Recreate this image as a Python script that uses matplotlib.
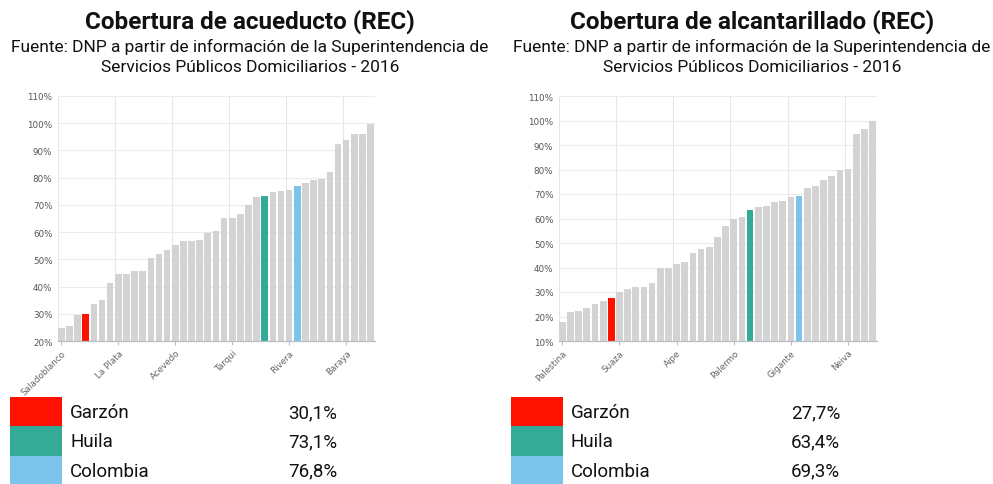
import matplotlib
matplotlib.use("Agg")
import numpy as np
import matplotlib.pyplot as plt
from matplotlib.patches import Rectangle

# cobertura de acueducto por municipio (%), ordenada
acueducto = [24.8, 25.6, 29.5, 30.1, 33.6, 35.1, 41.2, 44.5, 44.7, 45.7,
             45.7, 50.5, 51.8, 53.3, 55.1, 56.6, 56.8, 57.2, 59.5, 60.5,
             65.2, 65.2, 66.6, 69.8, 72.9, 73.1, 74.6, 75.2, 75.4, 76.8,
             77.9, 79.0, 79.6, 81.9, 92.2, 94.0, 96.1, 96.1, 99.7]
acu_ticks = ["Saladoblanco", "La Plata", "Acevedo", "Tarqui", "Rivera", "Baraya"]
acu_marks = {3: "Garzón", 25: "Huila", 29: "Colombia"}

# cobertura de alcantarillado por municipio (%), ordenada
alcantarillado = [17.9, 21.9, 22.4, 23.5, 24.9, 26.3, 27.7, 29.9, 31.3, 32.1,
                  32.0, 33.6, 39.9, 39.9, 41.6, 42.4, 45.8, 47.6, 48.3, 52.3,
                  57.0, 59.7, 60.7, 63.4, 64.5, 64.9, 66.6, 67.0, 68.9, 69.3,
                  72.4, 73.1, 75.8, 77.2, 79.7, 80.1, 94.3, 96.6, 99.8]
alc_ticks = ["Palestina", "Suaza", "Aipe", "Palermo", "Gigante", "Neiva"]
alc_marks = {6: "Garzón", 23: "Huila", 29: "Colombia"}

colors = {"Garzón": "#ff1100", "Huila": "#33ab97", "Colombia": "#7cc3ea"}
GRAY = "#d3d3d3"
W, H = 993, 485

fig = plt.figure(figsize=(W / 100, H / 100), dpi=100)


def px_axes(x0, y0, x1, y1):
    return fig.add_axes([x0 / W, 1 - y1 / H, (x1 - x0) / W, (y1 - y0) / H])


def draw_panel(ax, vals, marks, ticks, ymin):
    n = len(vals)
    x = np.arange(n)
    cols = [colors[marks[i]] if i in marks else GRAY for i in range(n)]
    bw = 0.82
    ax.bar(x, np.array(vals) - ymin, bottom=ymin, width=bw, color=cols, zorder=2)
    ax.set_xlim(-bw / 2, n - 1 + 0.55)
    ax.set_ylim(ymin, 110)
    ax.set_yticks(np.arange(ymin, 111, 10))
    ax.set_yticklabels([f"{v}%" for v in range(ymin, 111, 10)])
    tpos = np.arange(0, n, 7)[:len(ticks)]
    ax.set_xticks(tpos)
    ax.set_xticklabels(ticks, rotation=45, ha="right", rotation_mode="anchor")
    for t in tpos:
        ax.axvline(t - bw / 2, color="#e6e6e6", lw=0.8, zorder=0)
    for v in range(ymin, 111, 10):
        ax.axhline(v, color="#ececec", lw=0.8, zorder=0)
    for s in ["top", "right", "left"]:
        ax.spines[s].set_visible(False)
    ax.spines["bottom"].set_color("#b8bec6")
    ax.spines["bottom"].set_linewidth(0.9)
    ax.tick_params(axis="x", length=3, color="#b8bec6", labelsize=6.3,
                   labelcolor="#666666", pad=2)
    ax.tick_params(axis="y", length=0, labelsize=6.3, labelcolor="#555555", pad=4)


def draw_header(cx, title):
    fig.text(cx / W, 1 - 22 / H, title, ha="center", va="center",
             fontsize=17.5, fontweight="bold", family="Roboto", color="#111111")
    fig.text(cx / W, 1 - 47 / H,
             "Fuente: DNP a partir de información de la Superintendencia de",
             ha="center", va="center", fontsize=12.5, family="Roboto",
             color="#111111")
    fig.text(cx / W, 1 - 68 / H, "Servicios Públicos Domiciliarios - 2016",
             ha="center", va="center", fontsize=12.5, family="Roboto",
             color="#111111")


def draw_key(x0, xval, vals, marks):
    for k, (i, name) in enumerate(sorted(marks.items())):
        y0 = 398 + k * 29.3
        fig.patches.append(Rectangle((x0 / W, 1 - (y0 + 29.3) / H), 52 / W,
                                     29.3 / H, transform=fig.transFigure,
                                     color=colors[name], lw=0))
        yc = 1 - (y0 + 15) / H
        fig.text((x0 + 60) / W, yc, name, ha="left", va="center",
                 fontsize=13.5, family="Roboto", color="#111111")
        fig.text(xval / W, yc, f"{vals[i]:.1f}%".replace(".", ","),
                 ha="left", va="center", fontsize=13.5, family="Roboto",
                 color="#111111")


ax1 = px_axes(58, 97, 375, 342)
draw_panel(ax1, acueducto, acu_marks, acu_ticks, 20)
ax2 = px_axes(559, 97, 877, 342)
draw_panel(ax2, alcantarillado, alc_marks, alc_ticks, 10)

draw_header(250, "Cobertura de acueducto (REC)")
draw_header(752, "Cobertura de alcantarillado (REC)")
draw_key(10, 288, acueducto, acu_marks)
draw_key(511, 791, alcantarillado, alc_marks)

fig.savefig("out.png", dpi=100)
